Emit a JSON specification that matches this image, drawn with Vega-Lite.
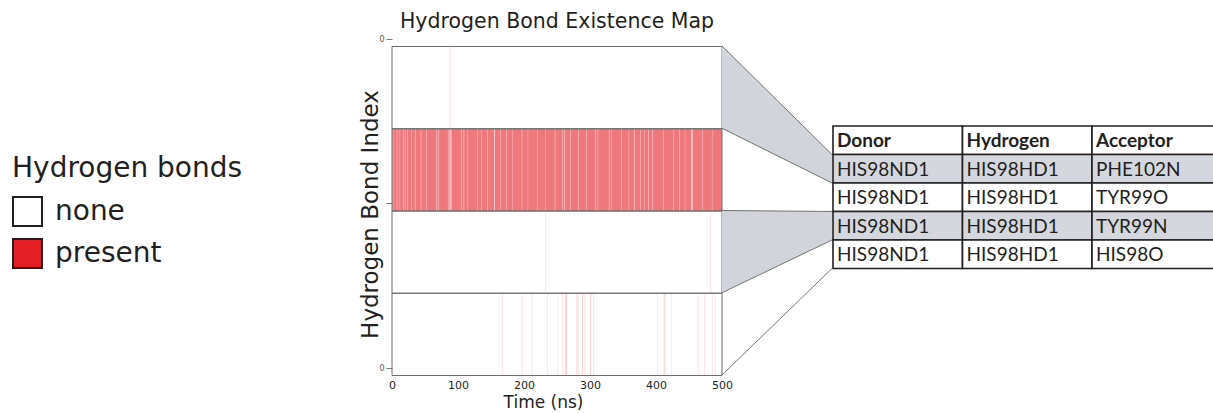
{
  "$schema": "https://vega.github.io/schema/vega-lite/v6.json",
  "background": "white",
  "padding": {"left": 12, "top": 11, "right": 0, "bottom": 0},
  "config": {"view": {"stroke": null}, "font": "DejaVu Sans"},
  "bounds": "flush",
  "spacing": 0,
  "resolve": {"scale": {"x": "independent", "y": "independent", "color": "independent", "fill": "independent"}},
  "datasets": {
    "events": [
      {"index": 1, "start": 0, "end": 1.2},
      {"index": 1, "start": 1.8, "end": 7.35},
      {"index": 1, "start": 7.85, "end": 11.8},
      {"index": 1, "start": 12.2, "end": 16.7},
      {"index": 1, "start": 17.3, "end": 20.8},
      {"index": 1, "start": 21.2, "end": 23.75},
      {"index": 1, "start": 24.25, "end": 28.8},
      {"index": 1, "start": 29.2, "end": 34.7},
      {"index": 1, "start": 35.3, "end": 43.75},
      {"index": 1, "start": 44.25, "end": 51.8},
      {"index": 1, "start": 52.2, "end": 66.75},
      {"index": 1, "start": 67.25, "end": 69.7},
      {"index": 1, "start": 70.3, "end": 84.75},
      {"index": 1, "start": 85.25, "end": 87.4},
      {"index": 1, "start": 88.6, "end": 89.6},
      {"index": 1, "start": 90.0, "end": 104.75},
      {"index": 1, "start": 105.25, "end": 108.7},
      {"index": 1, "start": 109.3, "end": 114.8},
      {"index": 1, "start": 115.2, "end": 128.75},
      {"index": 1, "start": 129.25, "end": 135.8},
      {"index": 1, "start": 136.2, "end": 144.75},
      {"index": 1, "start": 145.25, "end": 154.5},
      {"index": 1, "start": 155.5, "end": 163.8},
      {"index": 1, "start": 164.2, "end": 173.75},
      {"index": 1, "start": 174.25, "end": 181.8},
      {"index": 1, "start": 182.2, "end": 196.75},
      {"index": 1, "start": 197.25, "end": 205.8},
      {"index": 1, "start": 206.2, "end": 220.75},
      {"index": 1, "start": 221.25, "end": 231.8},
      {"index": 1, "start": 232.2, "end": 246.75},
      {"index": 1, "start": 247.25, "end": 257.8},
      {"index": 1, "start": 258.2, "end": 260.7},
      {"index": 1, "start": 261.3, "end": 269.75},
      {"index": 1, "start": 270.25, "end": 282.75},
      {"index": 1, "start": 283.25, "end": 294.8},
      {"index": 1, "start": 295.2, "end": 307.7},
      {"index": 1, "start": 308.3, "end": 311.75},
      {"index": 1, "start": 312.25, "end": 328.7},
      {"index": 1, "start": 329.3, "end": 332.8},
      {"index": 1, "start": 333.2, "end": 347.75},
      {"index": 1, "start": 348.25, "end": 358.8},
      {"index": 1, "start": 359.2, "end": 366.7},
      {"index": 1, "start": 367.3, "end": 376.75},
      {"index": 1, "start": 377.25, "end": 381.8},
      {"index": 1, "start": 382.2, "end": 388.75},
      {"index": 1, "start": 389.25, "end": 394.75},
      {"index": 1, "start": 395.25, "end": 410.8},
      {"index": 1, "start": 411.2, "end": 425.75},
      {"index": 1, "start": 426.25, "end": 435.7},
      {"index": 1, "start": 436.3, "end": 443.8},
      {"index": 1, "start": 444.2, "end": 453.75},
      {"index": 1, "start": 455.25, "end": 470.75},
      {"index": 1, "start": 471.25, "end": 484.8},
      {"index": 1, "start": 485.2, "end": 500},
      {"index": 0, "start": 89, "end": 89.25},
      {"index": 2, "start": 232, "end": 232.25},
      {"index": 2, "start": 482, "end": 482.25},
      {"index": 3, "start": 167, "end": 167.25},
      {"index": 3, "start": 197, "end": 197.25},
      {"index": 3, "start": 212, "end": 212.25},
      {"index": 3, "start": 235, "end": 235.25},
      {"index": 3, "start": 250, "end": 250.25},
      {"index": 3, "start": 258, "end": 258.25},
      {"index": 3, "start": 262, "end": 262.5},
      {"index": 3, "start": 264, "end": 264.5},
      {"index": 3, "start": 280, "end": 280.5},
      {"index": 3, "start": 282, "end": 282.25},
      {"index": 3, "start": 288, "end": 288.5},
      {"index": 3, "start": 291, "end": 291.25},
      {"index": 3, "start": 300, "end": 300.5},
      {"index": 3, "start": 305, "end": 305.25},
      {"index": 3, "start": 402, "end": 402.25},
      {"index": 3, "start": 412, "end": 412.5},
      {"index": 3, "start": 414, "end": 414.25},
      {"index": 3, "start": 424, "end": 424.25},
      {"index": 3, "start": 464, "end": 464.25},
      {"index": 3, "start": 474, "end": 474.25},
      {"index": 3, "start": 485, "end": 485.25},
      {"index": 3, "start": 490, "end": 490.25}
    ],
    "bonds": [
      {"index": 0, "acceptor": "PHE102N"},
      {"index": 1, "acceptor": "TYR99O"},
      {"index": 2, "acceptor": "TYR99N"},
      {"index": 3, "acceptor": "HIS98O"}
    ],
    "wedges": [
      {"acceptor": "PHE102N", "side": 0, "top": 0, "bottom": 1},
      {"acceptor": "PHE102N", "side": 1, "top": 1.319, "bottom": 1.666},
      {"acceptor": "TYR99N", "side": 0, "top": 2, "bottom": 3},
      {"acceptor": "TYR99N", "side": 1, "top": 2.012, "bottom": 2.359}
    ],
    "edges": [
      {"edge": 0, "side": 0, "level": 0},
      {"edge": 0, "side": 1, "level": 1.319},
      {"edge": 1, "side": 0, "level": 1},
      {"edge": 1, "side": 1, "level": 1.666},
      {"edge": 2, "side": 0, "level": 2},
      {"edge": 2, "side": 1, "level": 2.012},
      {"edge": 3, "side": 0, "level": 3},
      {"edge": 3, "side": 1, "level": 2.359},
      {"edge": 4, "side": 0, "level": 4},
      {"edge": 4, "side": 1, "level": 2.705}
    ],
    "table": [
      {"row": 0, "column": "Donor", "text": "Donor"},
      {"row": 0, "column": "Hydrogen", "text": "Hydrogen"},
      {"row": 0, "column": "Acceptor", "text": "Acceptor"},
      {"row": 1, "column": "Donor", "text": "HIS98ND1"},
      {"row": 1, "column": "Hydrogen", "text": "HIS98HD1"},
      {"row": 1, "column": "Acceptor", "text": "PHE102N"},
      {"row": 2, "column": "Donor", "text": "HIS98ND1"},
      {"row": 2, "column": "Hydrogen", "text": "HIS98HD1"},
      {"row": 2, "column": "Acceptor", "text": "TYR99O"},
      {"row": 3, "column": "Donor", "text": "HIS98ND1"},
      {"row": 3, "column": "Hydrogen", "text": "HIS98HD1"},
      {"row": 3, "column": "Acceptor", "text": "TYR99N"},
      {"row": 4, "column": "Donor", "text": "HIS98ND1"},
      {"row": 4, "column": "Hydrogen", "text": "HIS98HD1"},
      {"row": 4, "column": "Acceptor", "text": "HIS98O"}
    ]
  },
  "hconcat": [
    {
      "width": 330,
      "height": 336,
      "title": {"text": "Hydrogen Bond Existence Map", "font": "DejaVu Sans", "fontSize": 20.5, "fontWeight": "normal", "color": "#231f20", "offset": 3, "anchor": "middle", "frame": "group"},
      "layer": [
        {
          "data": {"name": "events"},
          "mark": {"type": "rect", "opacity": 0.6},
          "encoding": {
            "x": {
              "field": "start", "type": "quantitative", "title": "Time (ns)",
              "scale": {"domain": [0, 500], "nice": false, "zero": false},
              "axis": {"values": [0, 100, 200, 300, 400, 500], "ticks": false, "domain": false, "grid": false, "labelFont": "DejaVu Sans", "labelFontSize": 11, "labelColor": "#231f20", "labelPadding": 4, "labelFlush": false, "titleFont": "DejaVu Sans", "titleFontSize": 17, "titleFontWeight": "normal", "titleColor": "#231f20", "titlePadding": 4, "titleX": 151}
            },
            "x2": {"field": "end"},
            "y": {
              "field": "index", "type": "quantitative", "title": "Hydrogen Bond Index",
              "bin": {"step": 1, "extent": [0, 4]},
              "scale": {"domain": [-0.085, 4], "reverse": true, "nice": false, "zero": false},
              "axis": {"values": [-0.085, 1.91, 3.915], "labelExpr": "datum.value < 0 || datum.value > 3 ? '0' : ''", "domain": false, "grid": false, "tickSize": 6, "tickColor": "#555555", "tickWidth": 0.8, "labelFont": "DejaVu Sans", "labelFontSize": 8, "labelColor": "#555555", "labelPadding": 2, "labelFlush": false, "labelOverlap": false, "titleFont": "DejaVu Sans", "titleFontSize": 23, "titleFontWeight": "normal", "titleColor": "#231f20", "titlePadding": -4, "titleY": 175}
            },
            "color": {
              "datum": "present",
              "scale": {"domain": ["none", "present"], "range": ["#ffffff", "#e31e24"]},
              "legend": {"orient": "none", "legendX": -380, "legendY": 116, "title": "Hydrogen bonds", "titleLimit": 500, "padding": 0, "titleFont": "DejaVu Sans", "titleFontSize": 28, "titleFontWeight": "normal", "titleColor": "#231f20", "titlePadding": 13, "labelFont": "DejaVu Sans", "labelFontSize": 28, "labelColor": "#231f20", "labelOffset": 12, "symbolType": "square", "symbolSize": 840, "symbolStrokeColor": "#231f20", "symbolStrokeWidth": 2, "symbolOpacity": 1, "rowPadding": 5}
            }
          }
        },
        {
          "data": {"name": "bonds"},
          "mark": {"type": "rect", "filled": false, "stroke": "#6e6e6e", "strokeWidth": 1},
          "encoding": {
            "x": {"datum": 0, "type": "quantitative", "title": "Time (ns)"},
            "x2": {"datum": 500},
            "y": {"field": "index", "type": "quantitative", "bin": {"step": 1, "extent": [0, 4]}, "title": "Hydrogen Bond Index"}
          }
        }
      ]
    },
    {
      "width": 110,
      "height": 336,
      "layer": [
        {
          "data": {"name": "wedges"},
          "mark": {"type": "area", "color": "#d1d4da", "opacity": 1},
          "encoding": {
            "x": {"field": "side", "type": "quantitative", "scale": {"domain": [0, 1], "nice": false, "zero": false}, "axis": null},
            "y": {"field": "top", "type": "quantitative", "scale": {"domain": [-0.085, 4], "reverse": true, "nice": false, "zero": false}, "axis": null},
            "y2": {"field": "bottom"},
            "detail": {"field": "acceptor"}
          }
        },
        {
          "data": {"name": "edges"},
          "mark": {"type": "line", "color": "#555555", "strokeWidth": 0.8},
          "encoding": {
            "x": {"field": "side", "type": "quantitative"},
            "y": {"field": "level", "type": "quantitative"},
            "detail": {"field": "edge"}
          }
        }
      ]
    },
    {
      "width": 381,
      "height": 336,
      "data": {"name": "table"},
      "layer": [
        {
          "mark": {"type": "rect", "stroke": "#231f20", "strokeWidth": 1.6, "clip": true},
          "encoding": {
            "x": {"field": "column", "type": "nominal", "scale": {"domain": ["Donor", "Hydrogen", "Acceptor"], "range": [1, 389.5], "paddingInner": 0, "paddingOuter": 0}, "axis": null},
            "y": {"field": "row", "type": "ordinal", "scale": {"range": [87, 229.5], "paddingInner": 0, "paddingOuter": 0}, "axis": null},
            "fill": {"field": "row", "type": "ordinal", "scale": {"domain": [0, 1, 2, 3, 4], "range": ["#ffffff", "#d4d7dd", "#ffffff", "#d4d7dd", "#ffffff"]}, "legend": null}
          }
        },
        {
          "transform": [{"filter": "datum.row == 0"}],
          "mark": {"type": "text", "align": "left", "baseline": "middle", "dx": 4, "dy": 1, "font": "Lato", "fontSize": 19, "fontWeight": "bold", "color": "#231f20"},
          "encoding": {
            "x": {"field": "column", "type": "nominal", "bandPosition": 0},
            "y": {"field": "row", "type": "ordinal"},
            "text": {"field": "text"}
          }
        },
        {
          "transform": [{"filter": "datum.row > 0"}],
          "mark": {"type": "text", "align": "left", "baseline": "middle", "dx": 4, "dy": 1, "font": "Lato", "fontSize": 19, "fontWeight": "normal", "color": "#231f20"},
          "encoding": {
            "x": {"field": "column", "type": "nominal", "bandPosition": 0},
            "y": {"field": "row", "type": "ordinal"},
            "text": {"field": "text"}
          }
        }
      ]
    }
  ]
}
